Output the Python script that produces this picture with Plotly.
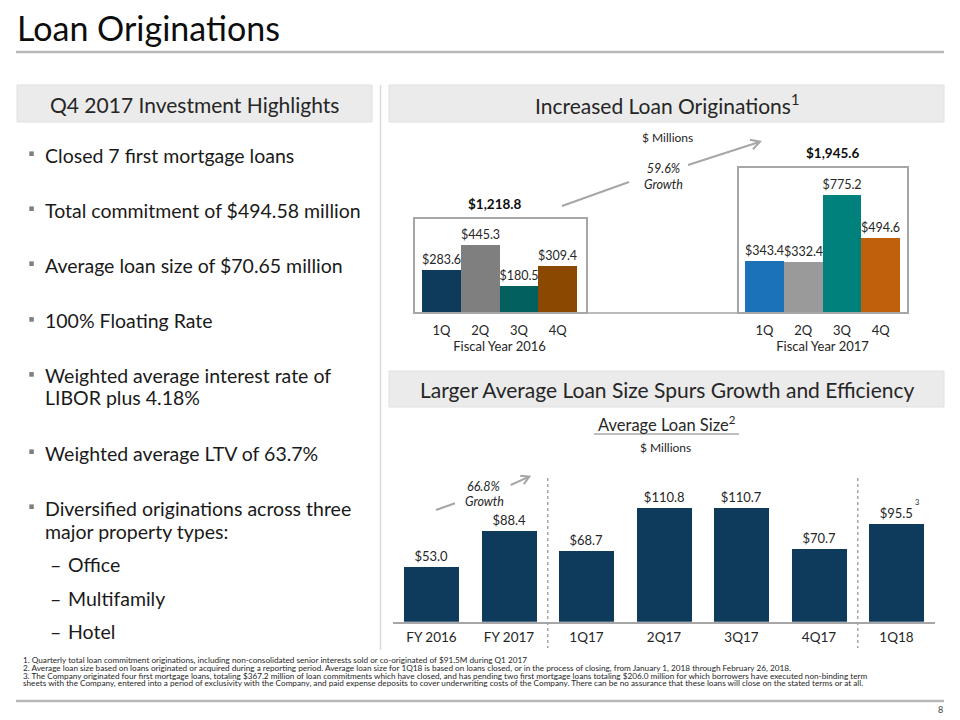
import math
import plotly.graph_objects as go

# ---------------- data ----------------
quarters = ["1Q", "2Q", "3Q", "4Q"]
fy2016_originations = [283.6, 445.3, 180.5, 309.4]
fy2017_originations = [343.4, 332.4, 775.2, 494.6]
fy2016_colors = ["#0e3a5c", "#7f7f7f", "#02605e", "#8b4800"]
fy2017_colors = ["#1b72b6", "#9a9a9a", "#00817c", "#c0600a"]

avg_periods = ["FY 2016", "FY 2017", "1Q17", "2Q17", "3Q17", "4Q17", "1Q18"]
avg_loan_size = [53.0, 88.4, 68.7, 110.8, 110.7, 70.7, 95.5]

highlights = [
    ["Closed 7 first mortgage loans"],
    ["Total commitment of $494.58 million"],
    ["Average loan size of $70.65 million"],
    ["100% Floating Rate"],
    ["Weighted average interest rate of", "LIBOR plus 4.18%"],
    ["Weighted average LTV of 63.7%"],
    ["Diversified originations across three", "major property types:"],
]
property_types = ["Office", "Multifamily", "Hotel"]

footnotes = [
    "1. Quarterly total loan commitment originations, including non-consolidated senior interests sold or co-originated of $91.5M during Q1 2017",
    "2. Average loan size based on loans originated or acquired during a reporting period. Average loan size for 1Q18 is based on loans closed, or in the process of closing, from January 1, 2018 through February 26, 2018.",
    "3. The Company originated four first mortgage loans, totaling $367.2 million of loan commitments which have closed, and has pending two first mortgage loans totaling $206.0 million for which borrowers have executed non-binding term",
    "sheets with the Company, entered into a period of exclusivity with the Company, and paid expense deposits to cover underwriting costs of the Company. There can be no assurance that these loans will close on the stated terms or at all.",
]

# ---------------- helpers ----------------
# the page body has an 8px margin, so the figure starts at (8, 8) of the window
OFF = 8
FW, FH = 944, 712
FONT = "Lato"
TXT = "#262626"
GRAY_LINE = "#a6a6a6"


def X(p):
    return (p - OFF) / FW


def Y(p):
    return 1 - (p - OFF) / FH


def ann(text, x, y, size, color=TXT, xanchor="center", yanchor="middle", **kw):
    return dict(text=text, x=X(x), y=Y(y), xref="paper", yref="paper",
                showarrow=False, xanchor=xanchor, yanchor=yanchor,
                font=dict(family=FONT, size=size, color=color), **kw)


def rect(x0, y0, x1, y1, fill="rgba(0,0,0,0)", line="#dedede", lw=1):
    return dict(type="rect", xref="paper", yref="paper", x0=X(x0), x1=X(x1),
                y0=Y(y0), y1=Y(y1), fillcolor=fill, line=dict(color=line, width=lw))


def seg(x0, y0, x1, y1, color=GRAY_LINE, width=2, dash="solid"):
    return dict(type="line", xref="paper", yref="paper", x0=X(x0), x1=X(x1),
                y0=Y(y0), y1=Y(y1), line=dict(color=color, width=width, dash=dash))


def arrow_shapes(tx, ty, hx, hy, length=9, half=5):
    dx, dy = hx - tx, hy - ty
    n = math.hypot(dx, dy)
    ux, uy = dx / n, dy / n
    nx, ny = -uy, ux
    p1 = (hx - length * ux + half * nx, hy - length * uy + half * ny)
    p2 = (hx - length * ux - half * nx, hy - length * uy - half * ny)
    path = (f"M {X(p1[0])},{Y(p1[1])} L {X(hx)},{Y(hy)} L {X(p2[0])},{Y(p2[1])}")
    return [seg(tx, ty, hx, hy),
            dict(type="path", xref="paper", yref="paper", path=path,
                 line=dict(color=GRAY_LINE, width=2))]


# ---------------- figure ----------------
fig = go.Figure()

label_font = dict(family=FONT, size=12.5, color=TXT)

fig.add_trace(go.Bar(
    x=quarters, y=fy2016_originations, xaxis="x", yaxis="y", width=1,
    marker=dict(color=fy2016_colors, line=dict(width=0)),
    text=[f"${v:.1f}" for v in fy2016_originations], textposition="outside",
    textfont=label_font, cliponaxis=False, constraintext="none",
    hoverinfo="skip", showlegend=False))

fig.add_trace(go.Bar(
    x=quarters, y=fy2017_originations, xaxis="x2", yaxis="y2", width=1,
    marker=dict(color=fy2017_colors, line=dict(width=0)),
    text=[f"${v:.1f}" for v in fy2017_originations], textposition="outside",
    textfont=label_font, cliponaxis=False, constraintext="none",
    hoverinfo="skip", showlegend=False))

fig.add_trace(go.Bar(
    x=avg_periods, y=avg_loan_size, xaxis="x3", yaxis="y3", width=0.71,
    marker=dict(color="#0e3a5c", line=dict(width=0)),
    text=[f"${v:.1f}" for v in avg_loan_size], textposition="outside",
    textfont=dict(family=FONT, size=13, color=TXT), cliponaxis=False,
    constraintext="none", hoverinfo="skip", showlegend=False))

tick_font = dict(family=FONT, size=13, color=TXT)
top_dom = [Y(313), Y(161)]
bot_dom = [Y(621.7), Y(470)]


def qaxis(dom, title, anchor):
    return dict(domain=dom, anchor=anchor, type="category", categoryarray=quarters,
                range=[-0.5, 3.5], showline=False, showgrid=False,
                zeroline=False, ticks="", tickfont=tick_font, automargin=False,
                ticklabelstandoff=8,
                title=dict(text=title, font=dict(family=FONT, size=13, color=TXT),
                           standoff=2), fixedrange=True)


yhidden = dict(visible=False, showgrid=False, zeroline=False, fixedrange=True)

total16 = sum(fy2016_originations)
total17 = sum(fy2017_originations)
orig_growth = (total17 / total16 - 1) * 100
avg_growth = (avg_loan_size[1] / avg_loan_size[0] - 1) * 100

shapes = [
    seg(16, 52, 944, 52, color="#b8b8b8", width=2.5),
    rect(17, 85, 372, 122, fill="#ebebeb", line="#e0e0e0"),
    rect(389, 85, 944, 122, fill="#ebebeb", line="#e0e0e0"),
    rect(389, 371, 944, 407, fill="#ebebeb", line="#e0e0e0"),
    seg(380.5, 85, 380.5, 650, color="#d9d9d9", width=1.5),
    # fiscal-year frames + baseline
    rect(414, 218, 587, 313, line=GRAY_LINE, lw=2),
    rect(738, 167, 908, 313, line=GRAY_LINE, lw=2),
    seg(414, 313, 908, 313, width=1.5),
    # growth arrow lower pieces
    seg(562, 206, 629, 182),
    seg(436, 510, 455, 503.3),
    # underline of chart title
    seg(594, 434, 739, 434, color="#bfbfbf", width=2),
    # footnote rule
    seg(16, 701, 944, 701, color="#b8b8b8", width=2.5),
    # dotted separators
    dict(type="line", xref="x3", yref="paper", x0=1.5, x1=1.5, y0=Y(478), y1=Y(648),
         line=dict(color=GRAY_LINE, width=1.5, dash="dot")),
    dict(type="line", xref="x3", yref="paper", x0=5.5, x1=5.5, y0=Y(478), y1=Y(648),
         line=dict(color=GRAY_LINE, width=1.5, dash="dot")),
]
shapes += arrow_shapes(688, 165, 760, 141.7)
shapes += arrow_shapes(510.7, 485, 529.3, 476.7, length=8, half=4.5)

annotations = [
    ann("Loan Originations", 15, 27, 34, color="#0d0d0d", xanchor="left"),
    ann("Q4 2017 Investment Highlights", 194.5, 104, 21, color=TXT),
    ann("Increased Loan Originations<sup>1</sup>", 666.5, 104, 21, color=TXT),
    ann("Larger Average Loan Size Spurs Growth and Efficiency", 666.5, 389, 21, color=TXT),
    ann("$ Millions", 667, 137, 12, color=TXT),
    ann(f"<i>{orig_growth:.1f}%<br>Growth</i>", 663, 176, 12.5, color=TXT),
    ann(f"<b>${total16:,.1f}</b>", 495, 204, 13.5, color="#0d0d0d"),
    ann(f"<b>${total17:,.1f}</b>", 833, 153, 13.5, color="#0d0d0d"),
    ann("Average Loan Size<sup>2</sup>", 666.5, 424, 16.5, color=TXT),
    ann("$ Millions", 665, 447, 12, color=TXT),
    ann(f"<i>{avg_growth:.1f}%</i>", 483, 486, 12.5, color=TXT),
    ann("<i>Growth</i>", 484, 501, 12.5, color=TXT),
    dict(text="3", x=avg_periods[-1], y=avg_loan_size[-1], xref="x3", yref="y3",
         xshift=20, yshift=21, showarrow=False,
         font=dict(family=FONT, size=7.5, color=TXT)),
    ann("8", 940, 709, 9, color="#404040"),
]

# bullets
bullet_rows = [[155], [210], [265], [320.7], [375.7, 398], [453], [508, 531.7]]
for lines, ys in zip(highlights, bullet_rows):
    sq_y = ys[0] - 1.3
    shapes.append(rect(29.3, sq_y - 2.3, 33.8, sq_y + 2.3, fill="#7f7f7f", line="#7f7f7f", lw=0))
    for line, yy in zip(lines, ys):
        annotations.append(ann(line, 43, yy, 19.5, color="#1a1a1a", xanchor="left"))

for name, yy in zip(property_types, [564, 598, 631.7]):
    annotations.append(ann("\u2013", 48, yy, 19.5, color="#1a1a1a", xanchor="left"))
    annotations.append(ann(name, 66, yy, 19.5, color="#1a1a1a", xanchor="left"))

for line, yy in zip(footnotes, [660.3, 668, 675.7, 683.3]):
    annotations.append(ann(line, 21, yy, 8.2, color=TXT, xanchor="left"))

fig.update_layout(
    template="none",
    width=FW, height=FH,
    margin=dict(l=0, r=0, t=0, b=0),
    paper_bgcolor="white", plot_bgcolor="rgba(0,0,0,0)",
    font=dict(family=FONT, color=TXT),
    bargap=0, showlegend=False,
    xaxis=qaxis([X(422), X(577)], "Fiscal Year 2016", "y"),
    xaxis2=qaxis([X(745), X(900)], "Fiscal Year 2017", "y2"),
    yaxis=dict(domain=top_dom, range=[0, 1000], anchor="x", **yhidden),
    yaxis2=dict(domain=top_dom, range=[0, 1000], anchor="x2", **yhidden),
    xaxis3=dict(domain=[X(392.75), X(935.25)], anchor="y3", type="category",
                categoryarray=avg_periods, range=[-0.5, 6.5], showline=True,
                linecolor=GRAY_LINE, linewidth=1.5, showgrid=False, zeroline=False,
                ticks="", tickfont=dict(family=FONT, size=13.5, color=TXT),
                ticklabelstandoff=2, automargin=False, fixedrange=True),
    yaxis3=dict(domain=bot_dom, range=[0, 148], anchor="x3", **yhidden),
    shapes=shapes,
    annotations=annotations,
)

fig.write_html("out.html")
